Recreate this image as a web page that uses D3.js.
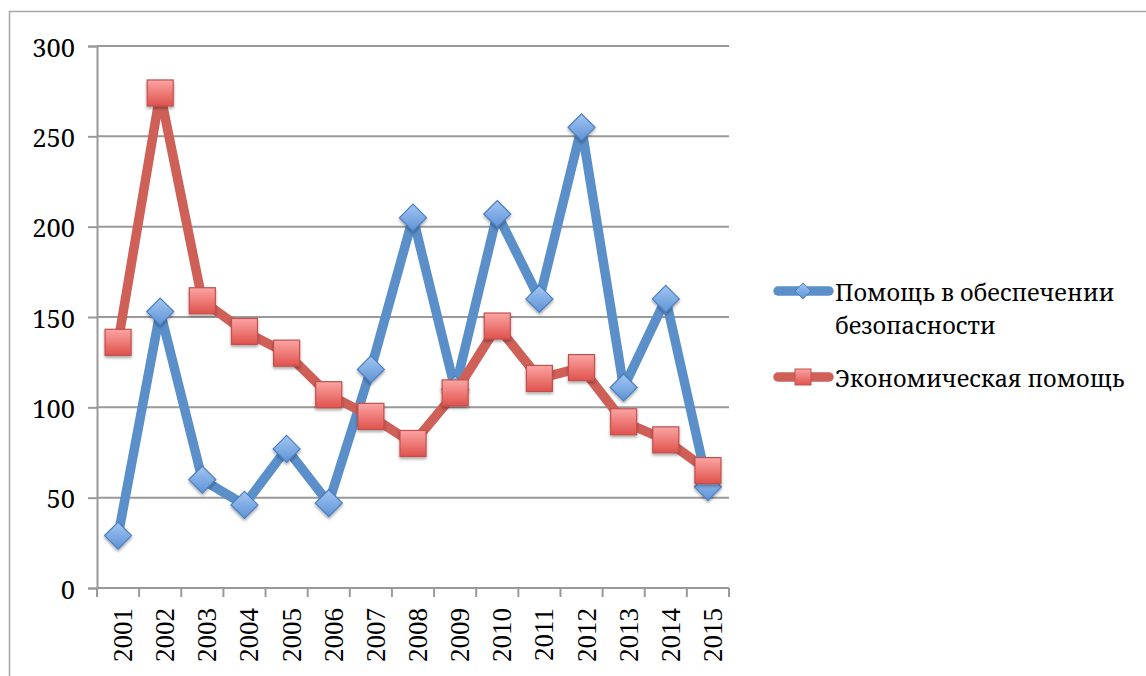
<!DOCTYPE html>
<html>
<head>
<meta charset="utf-8">
<script src="https://cdn.jsdelivr.net/npm/d3@7"></script>
<style>
  body { margin: 0; background: #fff; }
</style>
</head>
<body>
<svg id="chart" width="1146" height="676"></svg>
<script>
// Data
const years = ["2001","2002","2003","2004","2005","2006","2007","2008","2009","2010","2011","2012","2013","2014","2015"];
const security = [29, 153, 60, 46, 77, 47, 121, 205, 110, 207, 160, 255, 111, 160, 56];
const economic = [136, 274, 159, 142, 130, 107, 95, 80, 108, 145, 116, 122, 92, 82, 65];
const yTicks = [0, 50, 100, 150, 200, 250, 300];
const seriesNames = ["Помощь в обеспечении безопасности", "Экономическая помощь"];

const SERIF = "'Noto Serif', 'Liberation Serif', serif";
const TIMES = "'Liberation Serif', serif";
const svg = d3.select("#chart");
const W = 1146, H = 676;
const plot = { left: 97, right: 729, top: 46, bottom: 588 };

// gradients for markers
const defs = svg.append("defs");
function grad(id, top, bottom) {
  const g = defs.append("linearGradient").attr("id", id)
    .attr("x1", 0).attr("y1", 0).attr("x2", 0).attr("y2", 1);
  g.append("stop").attr("offset", "0%").attr("stop-color", top);
  g.append("stop").attr("offset", "100%").attr("stop-color", bottom);
}
grad("gBlue", "#a3c6f2", "#5d93d6");
grad("gRed", "#fba5a3", "#e0524d");
const f = defs.append("filter").attr("id", "shadow")
  .attr("x", "-50%").attr("y", "-50%").attr("width", "200%").attr("height", "200%");
f.append("feDropShadow").attr("dx", 0).attr("dy", 2).attr("stdDeviation", 1.5)
  .attr("flood-color", "#000").attr("flood-opacity", 0.35);

// outer frame
svg.append("rect")
  .attr("x", 9.5).attr("y", 11.5).attr("width", W + 10).attr("height", H + 10)
  .attr("fill", "none").attr("stroke", "#a6a6a6").attr("stroke-width", 1.5);

const x = d3.scaleBand().domain(years).range([plot.left, plot.right]);
const y = d3.scaleLinear().domain([0, 300]).range([plot.bottom, plot.top]);

// grid + y axis
const yAxis = svg.append("g")
  .attr("transform", `translate(${plot.left},0)`)
  .call(d3.axisLeft(y).tickValues(yTicks).tickSize(9).tickPadding(13));
yAxis.select(".domain").attr("stroke", "#999").attr("stroke-width", 2);
yAxis.selectAll(".tick line").attr("stroke", "#999").attr("stroke-width", 2);
yAxis.selectAll(".tick text")
  .attr("fill", "#000")
  .attr("dy", "0.4em")
  .style("font-family", SERIF)
  .style("font-size", "25.5px");

svg.append("g").selectAll("line")
  .data(yTicks.filter(d => d > 0))
  .join("line")
  .attr("x1", plot.left).attr("x2", plot.right)
  .attr("y1", d => y(d)).attr("y2", d => y(d))
  .attr("stroke", "#999").attr("stroke-width", 2);

// x axis
const xAxisG = svg.append("g").attr("transform", `translate(0,${plot.bottom})`);
xAxisG.append("line")
  .attr("x1", plot.left).attr("x2", plot.right)
  .attr("stroke", "#999").attr("stroke-width", 2);
const bounds = years.map(d => x(d)).concat([plot.right]);
xAxisG.selectAll("line.tk").data(bounds).join("line").attr("class", "tk")
  .attr("x1", d => d).attr("x2", d => d).attr("y1", 0).attr("y2", 9)
  .attr("stroke", "#999").attr("stroke-width", 2);
xAxisG.selectAll("text").data(years).join("text")
  .attr("transform", d => `translate(${x(d) + x.bandwidth() / 2 + 14},${20}) rotate(-90)`)
  .attr("text-anchor", "end")
  .attr("fill", "#000")
  .style("font-family", TIMES)
  .style("font-size", "27px")
  .text(d => d);

// series
const cx = d => x(d) + x.bandwidth() / 2;
const series = [
  { name: seriesNames[0], values: security, color: "#5b8fc9", fill: "url(#gBlue)", stroke: "#4a7fbf", marker: "diamond" },
  { name: seriesNames[1], values: economic, color: "#cf6058", fill: "url(#gRed)", stroke: "#c0504d", marker: "square" }
];

function drawMarker(g, s, px, py, r) {
  if (s.marker === "diamond") {
    g.append("path")
      .attr("d", `M${px},${py - r}L${px + r},${py}L${px},${py + r}L${px - r},${py}Z`)
      .attr("fill", s.fill).attr("stroke", s.stroke).attr("stroke-width", 1.2)
      .attr("filter", "url(#shadow)");
  } else {
    g.append("rect")
      .attr("x", px - r).attr("y", py - r).attr("width", 2 * r).attr("height", 2 * r)
      .attr("fill", s.fill).attr("stroke", s.stroke).attr("stroke-width", 1.2)
      .attr("filter", "url(#shadow)");
  }
}

const line = d3.line().x((d, i) => cx(years[i])).y(d => y(d));

series.forEach(s => {
  const g = svg.append("g");
  g.append("path").datum(s.values)
    .attr("d", line)
    .attr("fill", "none").attr("stroke", s.color).attr("stroke-width", 9.5)
    .attr("stroke-linejoin", "round");
  s.values.forEach((v, i) => {
    drawMarker(g, s, cx(years[i]), y(v), s.marker === "diamond" ? 13.5 : 13);
  });
});

// legend
const lg = svg.append("g");
const legendRows = [
  { s: series[0], y: 291, lines: ["Помощь в обеспечении", "безопасности"] },
  { s: series[1], y: 377, lines: ["Экономическая помощь"] }
];
legendRows.forEach(r => {
  lg.append("line")
    .attr("x1", 778).attr("x2", 829).attr("y1", r.y).attr("y2", r.y)
    .attr("stroke", r.s.color).attr("stroke-width", 9.5).attr("stroke-linecap", "round");
  if (r.s.marker === "diamond") {
    lg.append("path")
      .attr("d", `M803,${r.y - 8}L811,${r.y}L803,${r.y + 8}L795,${r.y}Z`)
      .attr("fill", r.s.fill).attr("stroke", r.s.stroke).attr("stroke-width", 1);
  } else {
    lg.append("rect").attr("x", 795).attr("y", r.y - 8).attr("width", 16).attr("height", 16)
      .attr("fill", r.s.fill).attr("stroke", r.s.stroke).attr("stroke-width", 1);
  }
  r.lines.forEach((t, k) => {
    lg.append("text")
      .attr("x", 835).attr("y", r.y + 10 + k * 33)
      .attr("fill", "#000")
      .style("font-family", SERIF)
      .style("font-size", "23.5px")
      .text(t);
  });
});
</script>
</body>
</html>
